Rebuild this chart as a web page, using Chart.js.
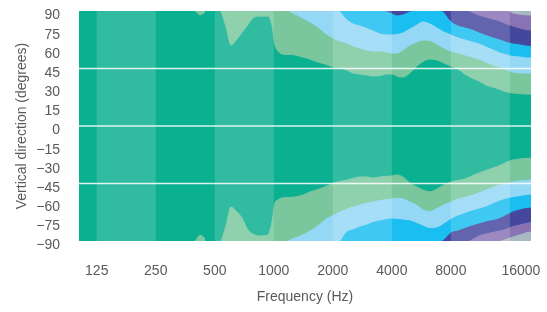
<!DOCTYPE html>
<html>
<head>
<meta charset="utf-8">
<script src="https://cdn.jsdelivr.net/npm/chart.js@4.4.1/dist/chart.umd.min.js"></script>
<style>
  html, body { margin: 0; padding: 0; background: #ffffff; }
  #wrap { width: 547px; height: 312px; }
</style>
</head>
<body>
<div id="wrap"><canvas id="c" width="547" height="312"></canvas></div>
<script>
// ---- Data ----
const freqTicks = [125, 250, 500, 1000, 2000, 4000, 8000, 16000];
const yTicks = [90, 75, 60, 45, 30, 15, 0, -15, -30, -45, -60, -75, -90];
const lightBands = [[125, 250], [500, 1000], [2000, 4000], [8000, 16000]];
const refLines = [45, 0, -45];
const levelColors = ['#7AC79E', '#94D8F5', '#1BBEF0', '#45479E', '#8A73B5', '#A8B8C0'];
const baseColor = '#0AB08F';

// Contour boundaries [Hz, degrees]; upper half (fill to top)
const upper1 = [[396,90.5],[420,86.9],[446,89],[473,null],[538,90],[570,78],[605,63.4],[641,67],[688,73.3],[738,79.3],[783,84.5],[850,86],[934,86],[979,79],[1014,63.4],[1050,58.7],[1101,56.3],[1181,56],[1282,55.6],[1408,54],[1529,52.4],[1680,50],[1824,48.5],[2004,46.2],[2175,45.4],[2361,43.8],[2533,41.5],[2750,40.7],[2985,39.9],[3204,39.1],[3478,39.5],[3776,40.7],[4005,40.7],[4247,39.1],[4557,38.3],[4946,41.5],[5370,47],[5762,50.5],[6255,52.4],[6791,51.7],[7372,49.3],[8004,47],[8689,44.6],[9435,40.7],[10241,37.6],[11119,35.2],[12073,32.1],[13108,30.5],[14230,28.6],[15448,26.6],[16575,25.8],[17995,25.4],[19313,25],[20500,25]];
const upper2 = [[1101,92],[1181,90.5],[1282,87.7],[1408,84.5],[1529,81.4],[1680,77.5],[1824,72.8],[2004,68.9],[2175,66.5],[2361,65],[2533,62.6],[2750,61],[2985,59.5],[3204,58.7],[3478,58.7],[3776,57.9],[4005,57.1],[4247,57.1],[4557,59.5],[4946,63.4],[5370,65.7],[5762,67.3],[6255,66.9],[6791,64.2],[7372,61],[8004,58.7],[8689,57.1],[9435,55.6],[10241,54],[11119,52.4],[12073,50],[13108,47.7],[14230,46.2],[15448,43.8],[16575,42.3],[17995,41.5],[19313,41.5],[20500,41.5]];
const upper3 = [[2004,92],[2175,90],[2361,83.7],[2533,80.6],[2750,79],[2985,77.1],[3204,75.1],[3478,72.8],[3776,72],[4005,72],[4247,72.4],[4557,73.6],[4946,76.7],[5370,79.8],[5762,82.2],[6255,80.6],[6791,77.5],[7372,74.3],[8004,72],[8689,69.7],[9435,68.1],[10241,66.5],[11119,65],[12073,62.6],[13108,60.3],[14230,57.9],[15448,56.3],[16575,55.2],[17995,54.8],[19313,54],[20500,54]];
const upper4 = [[3478,92],[3776,90],[4005,88.4],[4247,86.9],[4557,87.7],[4946,90],[5370,92],[5762,null],[6791,92],[7372,89.2],[8004,82.2],[8689,79],[9435,77.5],[10241,75.9],[11119,73.6],[12073,71.6],[13108,69.7],[14230,68.1],[15448,66.1],[16575,65],[17995,64.2],[19313,63.4],[20500,63]];
const upper5 = [[9435,92],[10241,89.2],[11119,86.9],[12073,85.3],[13108,83.7],[14230,82.2],[15448,79.8],[16575,78.3],[17995,76.7],[19313,75.5],[20500,75.1]];
const upper6 = [[14230,92],[15448,91],[16575,88.5],[17995,87.5],[19313,87],[20500,86.8]];

// Lower half (fill to bottom)
const lower1 = [[396,-90.5],[420,-85.5],[446,-88],[473,null],[538,-91],[570,-78.3],[605,-63.4],[641,-66.5],[688,-72],[738,-81.4],[783,-84.5],[850,-86.1],[934,-85.3],[979,-75.1],[1014,-60.3],[1050,-57.9],[1101,-56.3],[1181,-56],[1282,-55.6],[1408,-54],[1529,-51.7],[1680,-49.7],[1824,-47.7],[2004,-44.8],[2175,-43.4],[2361,-42.3],[2533,-41.1],[2750,-39.9],[2985,-39.9],[3204,-40.7],[3478,-39.9],[3776,-39.5],[4005,-39.1],[4247,-38.3],[4557,-39.9],[4946,-44.6],[5370,-47.7],[5762,-50.1],[6255,-51.4],[6791,-49.3],[7372,-46.2],[8004,-43.8],[8689,-42.7],[9435,-41.5],[10241,-39.1],[11119,-36.8],[12073,-34.8],[13108,-32.9],[14230,-30.9],[15448,-28.2],[16575,-26.6],[17995,-25.8],[19313,-25.4],[20500,-25.3]];
const lower2 = [[1101,-92],[1181,-90],[1282,-87.7],[1408,-85.3],[1529,-82.2],[1680,-78.3],[1824,-73.6],[2004,-70],[2175,-67.3],[2361,-65],[2533,-63.4],[2750,-61.8],[2985,-60.3],[3204,-59.5],[3478,-58.3],[3776,-57.5],[4005,-57.1],[4247,-56.6],[4557,-57.1],[4946,-59.5],[5370,-62.2],[5762,-65.7],[6255,-66.9],[6791,-64.6],[7372,-61.8],[8004,-59.5],[8689,-57.1],[9435,-56],[10241,-54.4],[11119,-52.4],[12073,-50.1],[13108,-48.1],[14230,-46.2],[15448,-45],[16575,-43.8],[17995,-43],[19313,-42.7],[20500,-42.3]];
const lower3 = [[2004,-92],[2175,-90.5],[2361,-83],[2533,-81.4],[2750,-79],[2985,-77.5],[3204,-75.5],[3478,-74.3],[3776,-73.1],[4005,-72.8],[4247,-73.1],[4557,-73.6],[4946,-74.3],[5370,-76.3],[5762,-78.3],[6255,-80.2],[6791,-79.8],[7372,-76.7],[8004,-73.1],[8689,-70.4],[9435,-68.5],[10241,-66.5],[11119,-65],[12073,-63.4],[13108,-61],[14230,-58.7],[15448,-57.1],[16575,-56],[17995,-55.2],[19313,-54.4],[20500,-54]];
const lower4 = [[6791,-92],[7372,-89.2],[8004,-83.7],[8689,-82.2],[9435,-80.2],[10241,-78.3],[11119,-76.7],[12073,-75.1],[13108,-74],[14230,-72.4],[15448,-69.7],[16575,-67.3],[17995,-65.7],[19313,-64.6],[20500,-64.2]];
const lower5 = [[9435,-92],[10241,-89.2],[11119,-86.1],[12073,-84.5],[13108,-83.3],[14230,-82.2],[15448,-80.6],[16575,-78.7],[17995,-77.5],[19313,-76.3],[20500,-75.5]];
const lower6 = [[13108,-92],[14230,-90.5],[15448,-88.4],[16575,-86.9],[17995,-85.3],[19313,-83.7],[20500,-83]];

const upperSets = [upper1, upper2, upper3, upper4, upper5, upper6];
const lowerSets = [lower1, lower2, lower3, lower4, lower5, lower6];

// ---- Build datasets ----
const textColor = '#5a5a5a';
const fontFamily = '"Liberation Sans", Arial, sans-serif';
const datasets = [];
function mk(pts, level, target) {
  return {
    data: pts.map(([x, y]) => ({ x: x, y: y })),
    borderColor: levelColors[level],
    backgroundColor: levelColors[level],
    borderWidth: 1,
    pointRadius: 0,
    fill: target,
    cubicInterpolationMode: 'monotone',
    spanGaps: false,
    order: 10 - level
  };
}
upperSets.forEach((s, i) => datasets.push(mk(s, i, 'end')));
lowerSets.forEach((s, i) => datasets.push(mk(s, i, 'start')));

const decorPlugin = {
  id: 'decor',
  beforeDatasetsDraw(chart) {
    const { ctx, chartArea: a } = chart;
    ctx.save();
    ctx.fillStyle = baseColor;
    ctx.fillRect(a.left, a.top, a.right - a.left, a.bottom - a.top);
    ctx.restore();
  },
  afterDatasetsDraw(chart) {
    const { ctx, chartArea: a, scales: { x, y } } = chart;
    ctx.save();
    ctx.beginPath();
    ctx.rect(a.left, a.top, a.right - a.left, a.bottom - a.top);
    ctx.clip();
    ctx.fillStyle = 'rgba(255,255,255,0.16)';
    lightBands.forEach(([f0, f1]) => {
      const x0 = x.getPixelForValue(f0), x1 = x.getPixelForValue(f1);
      ctx.fillRect(x0, a.top, x1 - x0, a.bottom - a.top);
    });
    ctx.strokeStyle = 'rgba(255,255,255,0.85)';
    ctx.lineWidth = 1.5;
    refLines.forEach(v => {
      const py = y.getPixelForValue(v);
      ctx.beginPath();
      ctx.moveTo(a.left, py);
      ctx.lineTo(a.right, py);
      ctx.stroke();
    });
    ctx.restore();
  },
  afterDraw(chart) {
    const { ctx, scales: { x } } = chart;
    ctx.save();
    ctx.font = '14px ' + fontFamily;
    ctx.fillStyle = textColor;
    ctx.textAlign = 'center';
    ctx.textBaseline = 'middle';
    freqTicks.forEach(f => {
      const px = x.getPixelForValue(f) + (f === 16000 ? 11 : 0);
      ctx.fillText(String(f), px, 271);
    });
    ctx.restore();
  }
};

new Chart(document.getElementById('c'), {
  type: 'line',
  data: { datasets: datasets },
  plugins: [decorPlugin],
  options: {
    responsive: false,
    animation: false,
    devicePixelRatio: 1,
    layout: { padding: { top: 11, right: 16, left: 0, bottom: 0 } },
    plugins: { legend: { display: false }, tooltip: { enabled: false }, filler: { propagate: false } },
    scales: {
      x: {
        type: 'logarithmic',
        min: 101.5,
        max: 20500,
        grid: { display: false, drawTicks: false },
        border: { display: false },
        ticks: { display: false },
        afterBuildTicks: s => { s.ticks = freqTicks.map(v => ({ value: v })); },
        afterFit: s => { s.height = 71; s.paddingLeft = 0; s.paddingRight = 0; },
        title: { display: true, text: 'Frequency (Hz)', color: textColor, font: { family: fontFamily, size: 14 }, padding: { top: 0, bottom: 6 } }
      },
      y: {
        type: 'linear',
        min: -90,
        max: 90,
        grid: { display: false, drawTicks: false },
        border: { display: false },
        afterBuildTicks: s => { s.ticks = yTicks.map(v => ({ value: v })); },
        afterFit: s => { s.width = 79; s.paddingTop = 0; s.paddingBottom = 0; },
        ticks: {
          color: textColor,
          font: { family: fontFamily, size: 14 },
          padding: 19,
          labelOffset: 4.5,
          autoSkip: false,
          callback: v => String(v).replace('-', '\u2212')
        },
        title: { display: true, text: 'Vertical direction (degrees)', color: textColor, font: { family: fontFamily, size: 14 }, padding: { top: 14, bottom: 0 } }
      }
    }
  }
});
</script>
</body>
</html>
